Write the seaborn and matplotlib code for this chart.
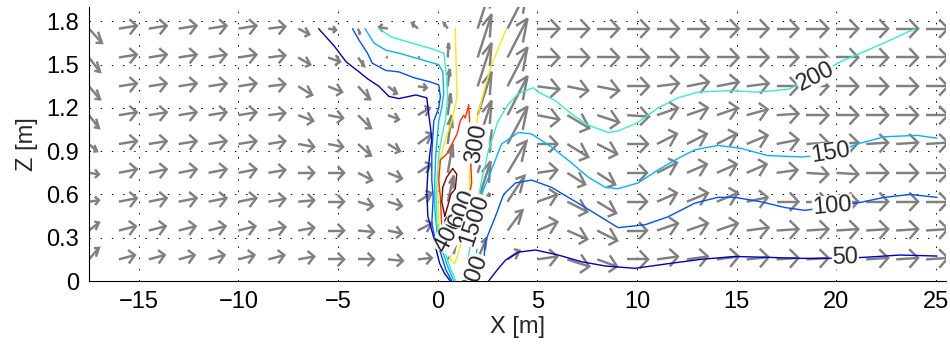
import numpy as np
import pandas as pd
import matplotlib
matplotlib.use("Agg")
import matplotlib.pyplot as plt
import seaborn as sns
from matplotlib.collections import LineCollection

# ---------------- data ----------------
# quiver grid (m)
grid_x = [-17.5, -16.0, -14.5, -13.0, -11.5, -10.0, -8.5, -7.0, -5.5, -4.0,
          -2.5, -1.0, 0.5, 2.0, 3.5, 5.0, 6.5, 8.0, 9.5, 11.0,
          12.5, 14.0, 15.5, 17.0, 18.5, 20.0, 21.5, 23.0, 24.5]
grid_z = [0.15, 0.35, 0.55, 0.75, 0.95, 1.15, 1.35, 1.55, 1.75]

# horizontal velocity component, one row per height (bottom to top)
u_rows = [
    [0.50, 0.80, 0.80, 0.80, 0.80, 0.80, 0.80, 0.80, 0.80, 0.80, 0.75, 0.70, 0.40, 0.45, 0.60,
     1.00, 1.10, 1.00, 1.05, 1.05, 1.05, 1.10, 1.10, 1.10, 1.10, 1.10, 1.10, 1.10, 1.10],
    [0.50, 0.85, 0.85, 0.85, 0.85, 0.85, 0.85, 0.80, 0.80, 0.80, 0.70, 0.70, 0.35, 0.60, 0.75,
     1.00, 1.00, 1.00, 1.00, 1.05, 1.05, 1.05, 1.10, 1.10, 1.10, 1.10, 1.10, 1.10, 1.10],
    [0.50, 0.90, 0.90, 0.90, 0.90, 0.90, 0.85, 0.80, 0.80, 0.75, 0.70, 0.70, 0.30, 0.65, 0.85,
     1.00, 1.00, 0.95, 1.00, 1.00, 1.05, 1.05, 1.05, 1.10, 1.10, 1.10, 1.10, 1.10, 1.10],
    [0.50, 0.90, 0.90, 0.90, 0.90, 0.90, 0.85, 0.80, 0.80, 0.70, 0.70, 0.65, 0.25, 0.70, 0.95,
     1.00, 0.90, 0.90, 1.00, 1.00, 1.00, 1.00, 1.00, 1.05, 1.10, 1.10, 1.10, 1.10, 1.10],
    [0.40, 0.90, 0.90, 0.90, 0.90, 0.90, 0.85, 0.80, 0.75, 0.65, 0.60, 0.70, 0.20, 0.70, 1.00,
     1.00, 1.05, 1.00, 1.05, 1.00, 1.00, 1.00, 1.05, 1.10, 1.10, 1.10, 1.10, 1.10, 1.10],
    [0.50, 0.90, 0.90, 0.90, 0.90, 0.90, 0.85, 0.75, 0.75, 0.65, 0.55, 0.60, 0.15, 0.70, 1.00,
     1.10, 1.10, 1.10, 1.10, 1.05, 1.05, 1.05, 1.05, 1.10, 1.10, 1.10, 1.10, 1.10, 1.10],
    [0.55, 0.90, 0.90, 0.90, 0.90, 0.90, 0.85, 0.70, 0.70, 0.60, 0.45, 0.45, 0.10, 0.70, 1.00,
     1.10, 1.05, 1.10, 1.10, 1.10, 1.10, 1.10, 1.10, 1.10, 1.10, 1.10, 1.10, 1.10, 1.10],
    [0.55, 0.90, 0.90, 0.90, 0.90, 0.90, 0.85, 0.60, 0.60, 0.30, -0.05, 0.05, 0.05, 0.70, 1.00,
     1.10, 1.10, 1.10, 1.10, 1.10, 1.10, 1.10, 1.10, 1.10, 1.10, 1.10, 1.10, 1.10, 1.10],
    [0.65, 0.90, 0.90, 0.90, 0.90, 0.90, 0.85, 0.55, 0.40, 0.10, -0.45, -0.30, -0.20, 0.70, 1.00,
     1.10, 1.10, 1.10, 1.10, 1.10, 1.10, 1.10, 1.10, 1.10, 1.10, 1.10, 1.10, 1.10, 1.10],
]

# vertical velocity component, one row per height (bottom to top)
w_rows = [
    [0.08, 0.03, 0.03, 0.03, 0.03, 0.03, 0.03, 0.02, 0.00, 0.00, -0.01, 0.01, 0.10, 0.15, 0.06,
     0.02, -0.05, -0.05, 0.00, 0.02, 0.02, 0.02, 0.015, 0.01, 0.01, 0.01, 0.01, 0.01, 0.01],
    [0.055, 0.03, 0.03, 0.03, 0.03, 0.03, 0.025, 0.02, 0.00, -0.01, -0.02, 0.05, 0.15, 0.26, 0.14,
     0.06, -0.06, -0.07, 0.00, 0.05, 0.05, 0.05, 0.02, 0.01, 0.01, 0.01, 0.01, 0.01, 0.01],
    [0.01, 0.025, 0.025, 0.025, 0.025, 0.025, 0.02, 0.01, 0.00, -0.03, -0.03, 0.06, 0.18, 0.28, 0.18,
     0.05, -0.07, -0.08, 0.00, 0.06, 0.06, 0.06, 0.03, 0.00, 0.00, 0.00, 0.00, 0.00, 0.00],
    [-0.01, 0.025, 0.025, 0.025, 0.025, 0.025, 0.02, 0.00, 0.00, -0.05, -0.04, 0.06, 0.20, 0.30, 0.22,
     0.02, -0.08, -0.08, 0.00, 0.07, 0.06, 0.06, 0.06, 0.02, -0.01, -0.01, 0.00, 0.00, 0.00],
    [-0.05, 0.02, 0.02, 0.02, 0.02, 0.02, 0.02, -0.02, -0.02, -0.08, -0.05, 0.07, 0.20, 0.30, 0.26,
     0.00, -0.09, -0.07, 0.00, 0.07, 0.07, 0.07, 0.06, 0.03, 0.01, 0.01, 0.01, 0.01, 0.01],
    [-0.09, 0.02, 0.02, 0.02, 0.02, 0.02, 0.015, -0.04, -0.02, -0.09, -0.03, 0.05, 0.15, 0.30, 0.27,
     -0.03, -0.09, -0.05, -0.01, 0.05, 0.05, 0.05, 0.04, 0.01, 0.00, 0.00, 0.00, 0.00, 0.00],
    [-0.09, 0.02, 0.02, 0.02, 0.02, 0.02, 0.015, -0.06, -0.04, -0.09, -0.05, -0.01, 0.12, 0.30, 0.27,
     -0.02, -0.03, -0.03, 0.00, 0.02, 0.03, 0.03, 0.02, 0.00, 0.00, 0.00, 0.00, 0.00, 0.00],
    [-0.10, 0.02, 0.02, 0.02, 0.02, 0.02, 0.015, -0.05, -0.03, -0.06, 0.00, 0.00, 0.10, 0.30, 0.27,
     0.00, 0.00, 0.00, 0.00, 0.00, 0.00, 0.00, 0.00, 0.00, 0.00, 0.00, 0.00, 0.00, 0.00],
    [-0.10, 0.02, 0.02, 0.02, 0.02, 0.02, 0.015, -0.04, -0.01, -0.04, 0.01, 0.04, 0.04, 0.30, 0.27,
     0.00, 0.00, 0.00, 0.00, 0.00, 0.00, 0.00, 0.00, 0.00, 0.00, 0.00, 0.00, 0.00, 0.00],
]

# concentration isolines (NaN separates branches of the same level)
c50_x = [-5.98, -5.2, -4.6, -3.95, -3.5, -2.95, -2.45, -1.95, -1.1, -0.55, -0.45, -0.37, -0.3,
         -0.4, -0.5, -0.55, -0.5, -0.2, -0.05, 0.1, 0.35, 0.63, np.nan,
         2.55, 3.0, 3.4, 4.05, 4.9, 6.05, 7.2, 8.4, 9.9, 11.55, 13.2, 14.9, 16.55, 18.2,
         19.55, 20.45, 21.4, 23.2, 25.05]
c50_z = [1.75, 1.63, 1.52, 1.45, 1.40, 1.35, 1.28, 1.265, 1.29, 1.27, 1.15, 1.07, 0.98,
         0.88, 0.75, 0.62, 0.45, 0.3, 0.2, 0.12, 0.05, 0.0, np.nan,
         0.0, 0.08, 0.145, 0.2, 0.215, 0.18, 0.134, 0.104, 0.088, 0.12, 0.15, 0.17, 0.164, 0.157,
         0.157, 0.16, 0.164, 0.18, 0.173]

c100_x = [-4.28, -3.95, -3.53, -3.28, -2.6, -1.95, -1.2, -0.37, 0.05, 0.13, 0.05, -0.2, -0.3,
          -0.3, -0.23, -0.3, -0.15, 0.13, 0.4, 0.7, np.nan,
          2.2, 2.4, 2.9, 3.3, 3.9, 4.7, 5.7, 7.4, 9.05, 10.4, 11.55, 12.9, 14.05, 14.9, 16.2,
          17.4, 18.4, 19.8, 21.2, 22.4, 23.7, 25.05]
c100_z = [1.75, 1.67, 1.58, 1.51, 1.46, 1.45, 1.41, 1.38, 1.36, 1.28, 1.2, 1.11, 0.88,
          0.7, 0.58, 0.4, 0.3, 0.2, 0.08, 0.0, np.nan,
          0.0, 0.28, 0.45, 0.6, 0.68, 0.70, 0.65, 0.51, 0.37, 0.39, 0.445, 0.54, 0.58, 0.58, 0.55,
          0.51, 0.49, 0.515, 0.545, 0.58, 0.6, 0.58]

c150_x = [-3.65, -3.2, -2.6, -1.95, -0.95, 0.05, 0.25, 0.3, 0.2, 0.05, -0.1, -0.15, -0.15,
          -0.05, 0.22, 0.5, 0.8, np.nan,
          1.85, 2.0, 2.2, 2.55, 3.2, 4.05, 4.7, 5.7, 6.7, 7.55, 8.4, 9.05, 10.05, 11.05, 12.05,
          12.9, 14.05, 15.2, 16.55, 18.3, 19.7, 21.05, 22.4, 24.05, 25.05]
c150_z = [1.75, 1.65, 1.6, 1.58, 1.54, 1.5, 1.45, 1.3, 1.2, 1.11, 0.88, 0.7, 0.5,
          0.35, 0.215, 0.1, 0.0, np.nan,
          0.0, 0.3, 0.6, 0.72, 0.95, 1.03, 1.02, 0.93, 0.82, 0.72, 0.65, 0.64, 0.68, 0.77, 0.85,
          0.91, 0.94, 0.92, 0.87, 0.86, 0.88, 0.95, 1.0, 1.01, 0.99]

c200_x = [-2.95, -2.3, -1.3, -0.3, 0.3, 0.45, 0.5, 0.38, 0.2, 0.05, -0.07, -0.05, 0.1, 0.33,
          0.6, 0.9, np.nan,
          1.3, 1.45, 1.7, 1.95, 2.2, 2.55, 3.0, 3.5, 4.05, 4.8, 5.05, 5.9, 6.7, 7.55, 8.55, 9.05,
          10.05, 11.05, 12.05, 13.05, 14.55, 16.05, 17.6, 18.95, 20.2, 21.55, 22.7, 23.95]
c200_z = [1.75, 1.69, 1.65, 1.61, 1.58, 1.41, 1.28, 1.11, 1.0, 0.88, 0.58, 0.4, 0.3, 0.215,
          0.1, 0.0, np.nan,
          0.0, 0.1, 0.3, 0.5, 0.7, 0.91, 1.1, 1.22, 1.3, 1.34, 1.31, 1.25, 1.16, 1.08, 1.03, 1.04,
          1.1, 1.2, 1.27, 1.31, 1.32, 1.31, 1.33, 1.42, 1.52, 1.6, 1.67, 1.75]

c300_x = [0.88, 0.92, 0.97, 0.7, 0.38, 0.2, 0.05, 0.0, 0.05, 0.15, 0.45, 0.7, 0.85, 1.0, 1.2,
          1.45, 1.6, 1.6, 1.8, 2.05, 2.38, 2.72, 3.0, 3.45]
c300_z = [1.75, 1.5, 1.28, 1.11, 0.98, 0.88, 0.8, 0.58, 0.4, 0.28, 0.2, 0.14, 0.12, 0.18, 0.28,
          0.36, 0.48, 0.75, 0.97, 1.17, 1.35, 1.51, 1.6, 1.75]

c600_x = [1.55, 1.38, 1.3, 1.13, 0.97, 0.45, 0.13, 0.05, 0.13, 0.2, 0.45, 0.8, 1.1, 1.45, 1.7,
          1.63, 1.63, 1.55]
c600_z = [1.22, 1.13, 1.15, 1.11, 1.02, 0.88, 0.84, 0.7, 0.58, 0.38, 0.28, 0.3, 0.4, 0.5, 0.68,
          0.91, 1.02, 1.22]

c1000_x = [0.35, 0.2, 0.25, 0.45, 0.75, 0.95, 0.88, 0.65, 0.5, 0.35]
c1000_z = [0.45, 0.55, 0.65, 0.72, 0.78, 0.74, 0.64, 0.6, 0.52, 0.45]

levels = [50, 100, 150, 200, 300, 600, 1000]
level_lines = {50: (c50_x, c50_z), 100: (c100_x, c100_z), 150: (c150_x, c150_z),
               200: (c200_x, c200_z), 300: (c300_x, c300_z), 600: (c600_x, c600_z),
               1000: (c1000_x, c1000_z)}

# inline contour labels
label_values = ["200", "150", "100", "50", "300", "400", "600", "1500", "200"]
label_x = [18.95, 19.7, 19.8, 20.45, 1.95, 0.6, 1.25, 1.85, 1.85]
label_z = [1.42, 0.885, 0.515, 0.16, 0.95, 0.33, 0.5, 0.42, 0.05]
label_rot = [27, 9, 5, 2, 80, 62, 68, 72, 70]

x_ticks = [-15, -10, -5, 0, 5, 10, 15, 20, 25]
x_ticklabels = ["\u221215", "\u221210", "\u22125", "0", "5", "10", "15", "20", "25"]
z_ticks = [0, 0.3, 0.6, 0.9, 1.2, 1.5, 1.8]
z_ticklabels = ["0", "0.3", "0.6", "0.9", "1.2", "1.5", "1.8"]

# ---------------- style ----------------
sns.set_theme(style="white")
plt.rcParams["font.family"] = ["Liberation Sans", "DejaVu Sans"]
FS = 17

level_colors = {"50": "#0000C8", "100": "#0050FF", "150": "#00B4FF", "200": "#30F0D0",
                "300": "#F0F000", "600": "#FF3000", "1000": "#800000"}

fig = plt.figure(figsize=(9.5, 3.51), dpi=100)
ax = fig.add_axes([89 / 950, 70 / 351, 857 / 950, 274 / 351])
ax.set_xlim(-17.5, 25.5)
ax.set_ylim(0, 1.9)

# ---------------- velocity arrows (open chevron heads) ----------------
# heads are built in a space where the horizontal is stretched, so that
# horizontal arrows get wide chevrons and steep arrows get narrow ones
X, Z = np.meshgrid(grid_x, grid_z)
U = np.array(u_rows)
W = np.array(w_rows)
tail_d = ax.transData.transform(np.column_stack([X.ravel(), Z.ravel()]))
tip_d = ax.transData.transform(np.column_stack([(X + U).ravel(), (Z + W).ravel()]))
stretch = np.array([2.2, 1.0])
vec = (tip_d - tail_d) * stretch
perp = np.column_stack([-vec[:, 1], vec[:, 0]])
alpha, beta = 0.40, 0.48
barb1 = tip_d - (alpha * (vec + beta * perp)) / stretch
barb2 = tip_d - (alpha * (vec - beta * perp)) / stretch
inv = ax.transData.inverted()
tail, tip = inv.transform(tail_d), inv.transform(tip_d)
b1, b2 = inv.transform(barb1), inv.transform(barb2)
segs = []
for i in range(len(tail)):
    segs.append([tail[i], tip[i]])
    segs.append([b1[i], tip[i], b2[i]])
ax.add_collection(LineCollection(segs, colors="#808080", linewidths=1.75, zorder=2,
                                 capstyle="butt", joinstyle="miter"))

# ---------------- isolines ----------------
rows = []
seg_id = 0
for lev in levels:
    xs, zs = level_lines[lev]
    for xv, zv in zip(xs, zs):
        if np.isnan(xv):
            seg_id += 1
            continue
        rows.append({"x": xv, "z": zv, "level": str(lev), "seg": seg_id})
    seg_id += 1
df = pd.DataFrame(rows)
sns.lineplot(data=df, x="x", y="z", hue="level", units="seg", estimator=None, sort=False,
             palette=level_colors, hue_order=[str(l) for l in levels], legend=False,
             linewidth=1.0, ax=ax, zorder=3)

for txt, lx, lz, rot in zip(label_values, label_x, label_z, label_rot):
    ax.text(lx, lz, txt, fontsize=FS, rotation=rot, rotation_mode="anchor",
            ha="center", va="center", zorder=4, clip_on=True,
            bbox=dict(facecolor="white", edgecolor="none", pad=0.3))

# ---------------- axes ----------------
ax.set_xlim(-17.5, 25.5)
ax.set_ylim(0, 1.9)
ax.set_xticks(x_ticks)
ax.set_xticklabels(x_ticklabels)
ax.set_yticks(z_ticks)
ax.set_yticklabels(z_ticklabels)
ax.set_xticks(np.arange(-17, 26, 1), minor=True)
ax.tick_params(axis="both", which="major", direction="in", length=6, width=0.8,
               labelsize=FS, colors="black", pad=7)
ax.tick_params(axis="x", which="minor", direction="in", length=2.5, width=0.6, colors="black")
ax.grid(True, which="major", color="black", linestyle=(0, (1.5, 10)), linewidth=0.7)
ax.set_axisbelow(True)
for side in ["top", "right"]:
    ax.spines[side].set_visible(False)
for side in ["left", "bottom"]:
    ax.spines[side].set_color("black")
    ax.spines[side].set_linewidth(0.8)
ax.set_xlabel("X [m]", fontsize=FS, labelpad=2)
ax.set_ylabel("Z [m]", fontsize=FS, labelpad=6)

fig.savefig("out.png", dpi=100)
